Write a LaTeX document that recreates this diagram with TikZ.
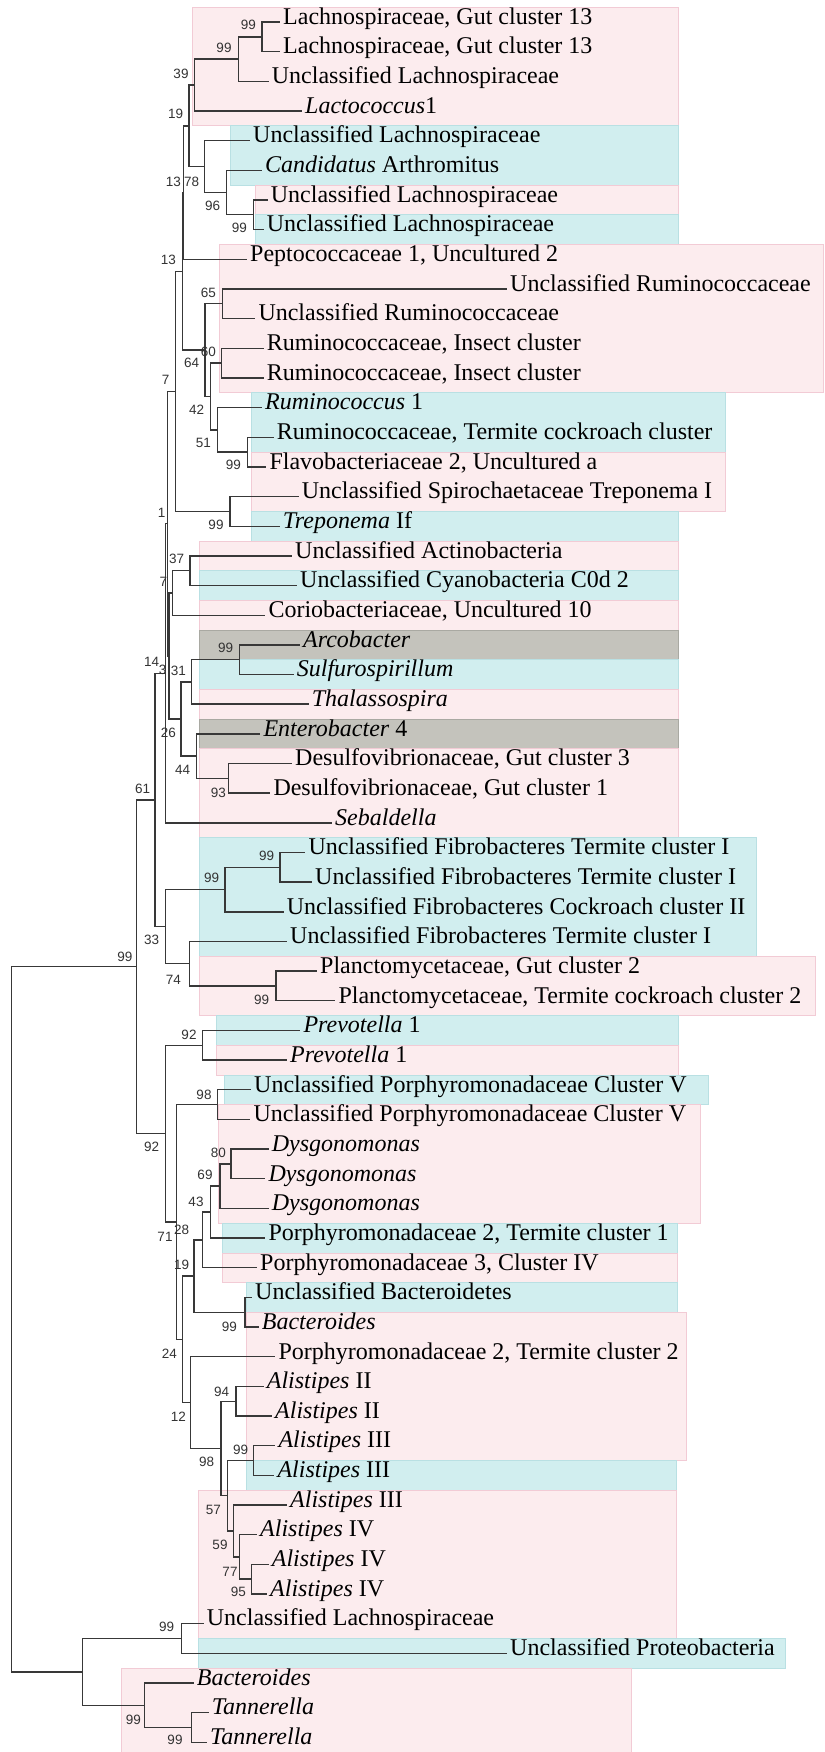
\documentclass[tikz,border=0pt]{standalone}
\usepackage{fontspec}
\setmainfont{Liberation Serif}
\newfontfamily\lsans{Liberation Sans}
\definecolor{pkf}{HTML}{FCECEE}
\definecolor{pkd}{HTML}{F2CBD5}
\definecolor{cyf}{HTML}{D1EEEF}
\definecolor{cyd}{HTML}{B9E0E3}
\definecolor{gyf}{HTML}{C4C3BC}
\definecolor{gyd}{HTML}{A9A9A2}
\newcommand\Y[1]{22+(#1-1)*29.66}
\newcommand\bx[5]{\path[#5] (#1,{\Y{#3-0.5}}) rectangle (#2,{\Y{#4+0.5}});}
\newcommand\ed[2]{\draw[br] (#1) |- (#2);}
\newcommand\el[2]{\draw[lf] (#1) |- (#2.mid west);}
\tikzset{
  leaf/.style={anchor=mid west, inner sep=0pt, font=\fontsize{24}{28}\selectfont},
  bs/.style={inner sep=0pt, font=\lsans\fontsize{13.5}{15}\selectfont, text=black!80},
  br/.style={draw=black!78, line width=1.4pt},
  lf/.style={br, shorten >=3pt},
  pkb/.style={fill=pkf, draw=pkd, line width=0.8pt},
  cyb/.style={fill=cyf, draw=cyd, line width=0.8pt},
  gyb/.style={fill=gyf, draw=gyd, line width=0.8pt}
}
\begin{document}
\begin{tikzpicture}[x=1pt,y=-1pt]
\useasboundingbox (0,0) rectangle (824,1752);
% background boxes
\bx{192.7}{678.3}{1}{4}{pkb}
\bx{230}{678.3}{5}{6}{cyb}
\bx{255}{678.3}{7}{7}{pkb}
\bx{255}{678.3}{8}{8}{cyb}
\bx{219.3}{823}{9}{13}{pkb}
\bx{251.7}{725}{14}{15}{cyb}
\bx{251.7}{725}{16}{17}{pkb}
\bx{251.7}{678.3}{18}{18}{cyb}
\bx{199}{678.3}{19}{19}{pkb}
\bx{199}{678.3}{20}{20}{cyb}
\bx{199}{678.3}{21}{21}{pkb}
\bx{199}{678.3}{22}{22}{gyb}
\bx{199}{678.3}{23}{23}{cyb}
\bx{199}{678.3}{24}{24}{pkb}
\bx{199}{678.3}{25}{25}{gyb}
\bx{199}{678.3}{26}{28}{pkb}
\bx{199}{756.7}{29}{32}{cyb}
\bx{199}{815}{33}{34}{pkb}
\bx{216.7}{678.3}{35}{35}{cyb}
\bx{216.7}{678.3}{36}{36}{pkb}
\bx{224}{708.3}{37}{37}{cyb}
\bx{218.3}{700}{38}{41}{pkb}
\bx{222.7}{677.7}{42}{42}{cyb}
\bx{222.7}{677.7}{43}{43}{pkb}
\bx{246}{677.7}{44}{44}{cyb}
\bx{246}{686}{45}{49}{pkb}
\bx{246}{676.7}{50}{50}{cyb}
\bx{198.3}{676.7}{51}{55}{pkb}
\bx{198.3}{785}{56}{56}{cyb}
\bx{121.7}{631.7}{57}{59}{pkb}
% leaves
\node[leaf] (l1) at (283,{\Y{1}}) {Lachnospiraceae, Gut cluster 13};
\node[leaf] (l2) at (283,{\Y{2}}) {Lachnospiraceae, Gut cluster 13};
\node[leaf] (l3) at (271.7,{\Y{3}}) {Unclassified Lachnospiraceae};
\node[leaf] (l4) at (305,{\Y{4}}) {\textit{Lactococcus}1};
\node[leaf] (l5) at (253,{\Y{5}}) {Unclassified Lachnospiraceae};
\node[leaf] (l6) at (265,{\Y{6}}) {\textit{Candidatus} Arthromitus};
\node[leaf] (l7) at (270.7,{\Y{7}}) {Unclassified Lachnospiraceae};
\node[leaf] (l8) at (266.7,{\Y{8}}) {Unclassified Lachnospiraceae};
\node[leaf] (l9) at (250,{\Y{9}}) {Peptococcaceae 1, Uncultured 2};
\node[leaf] (l10) at (510,{\Y{10}}) {Unclassified Ruminococcaceae};
\node[leaf] (l11) at (258.3,{\Y{11}}) {Unclassified Ruminococcaceae};
\node[leaf] (l12) at (266.7,{\Y{12}}) {Ruminococcaceae, Insect cluster};
\node[leaf] (l13) at (266.7,{\Y{13}}) {Ruminococcaceae, Insect cluster};
\node[leaf] (l14) at (265,{\Y{14}}) {\textit{Ruminococcus} 1};
\node[leaf] (l15) at (276.7,{\Y{15}}) {Ruminococcaceae, Termite cockroach cluster};
\node[leaf] (l16) at (269.3,{\Y{16}}) {Flavobacteriaceae 2, Uncultured a};
\node[leaf] (l17) at (301.7,{\Y{17}}) {Unclassified Spirochaetaceae Treponema I};
\node[leaf] (l18) at (282.7,{\Y{18}}) {\textit{Treponema} If};
\node[leaf] (l19) at (295,{\Y{19}}) {Unclassified Actinobacteria};
\node[leaf] (l20) at (300,{\Y{20}}) {Unclassified Cyanobacteria C0d 2};
\node[leaf] (l21) at (268.3,{\Y{21}}) {Coriobacteriaceae, Uncultured 10};
\node[leaf] (l22) at (303,{\Y{22}}) {\textit{Arcobacter}};
\node[leaf] (l23) at (296.7,{\Y{23}}) {\textit{Sulfurospirillum}};
\node[leaf] (l24) at (311.7,{\Y{24}}) {\textit{Thalassospira}};
\node[leaf] (l25) at (263.3,{\Y{25}}) {\textit{Enterobacter} 4};
\node[leaf] (l26) at (295,{\Y{26}}) {Desulfovibrionaceae, Gut cluster 3};
\node[leaf] (l27) at (273.3,{\Y{27}}) {Desulfovibrionaceae, Gut cluster 1};
\node[leaf] (l28) at (335,{\Y{28}}) {\textit{Sebaldella}};
\node[leaf] (l29) at (308.3,{\Y{29}}) {Unclassified Fibrobacteres Termite cluster I};
\node[leaf] (l30) at (315,{\Y{30}}) {Unclassified Fibrobacteres Termite cluster I};
\node[leaf] (l31) at (286.7,{\Y{31}}) {Unclassified Fibrobacteres Cockroach cluster II};
\node[leaf] (l32) at (290,{\Y{32}}) {Unclassified Fibrobacteres Termite cluster I};
\node[leaf] (l33) at (320,{\Y{33}}) {Planctomycetaceae, Gut cluster 2};
\node[leaf] (l34) at (338.3,{\Y{34}}) {Planctomycetaceae, Termite cockroach cluster 2};
\node[leaf] (l35) at (303.3,{\Y{35}}) {\textit{Prevotella} 1};
\node[leaf] (l36) at (290,{\Y{36}}) {\textit{Prevotella} 1};
\node[leaf] (l37) at (254,{\Y{37}}) {Unclassified Porphyromonadaceae Cluster V};
\node[leaf] (l38) at (253.3,{\Y{38}}) {Unclassified Porphyromonadaceae Cluster V};
\node[leaf] (l39) at (271.7,{\Y{39}}) {\textit{Dysgonomonas}};
\node[leaf] (l40) at (268.3,{\Y{40}}) {\textit{Dysgonomonas}};
\node[leaf] (l41) at (271.7,{\Y{41}}) {\textit{Dysgonomonas}};
\node[leaf] (l42) at (268.3,{\Y{42}}) {Porphyromonadaceae 2, Termite cluster 1};
\node[leaf] (l43) at (260,{\Y{43}}) {Porphyromonadaceae 3, Cluster IV};
\node[leaf] (l44) at (255,{\Y{44}}) {Unclassified Bacteroidetes};
\node[leaf] (l45) at (261.7,{\Y{45}}) {\textit{Bacteroides}};
\node[leaf] (l46) at (278.3,{\Y{46}}) {Porphyromonadaceae 2, Termite cluster 2};
\node[leaf] (l47) at (266.7,{\Y{47}}) {\textit{Alistipes} II};
\node[leaf] (l48) at (275,{\Y{48}}) {\textit{Alistipes} II};
\node[leaf] (l49) at (278.3,{\Y{49}}) {\textit{Alistipes} III};
\node[leaf] (l50) at (277.3,{\Y{50}}) {\textit{Alistipes} III};
\node[leaf] (l51) at (290,{\Y{51}}) {\textit{Alistipes} III};
\node[leaf] (l52) at (260,{\Y{52}}) {\textit{Alistipes} IV};
\node[leaf] (l53) at (271.7,{\Y{53}}) {\textit{Alistipes} IV};
\node[leaf] (l54) at (270,{\Y{54}}) {\textit{Alistipes} IV};
\node[leaf] (l55) at (206.7,{\Y{55}}) {Unclassified Lachnospiraceae};
\node[leaf] (l56) at (510,{\Y{56}}) {Unclassified Proteobacteria};
\node[leaf] (l57) at (196.7,{\Y{57}}) {\textit{Bacteroides}};
\node[leaf] (l58) at (211.7,{\Y{58}}) {\textit{Tannerella}};
\node[leaf] (l59) at (210,{\Y{59}}) {\textit{Tannerella}};
% internal nodes
\coordinate (n99a) at (262,{\Y{1.5}});
\coordinate (n99i) at (238.3,{\Y{2.25}});
\coordinate (n39) at (194.3,{\Y{3.125}});
\coordinate (n99b) at (253.3,{\Y{7.5}});
\coordinate (n96) at (226.7,{\Y{6.75}});
\coordinate (n78) at (204.3,{\Y{5.875}});
\coordinate (n19) at (189,{\Y{4.5}});
\coordinate (nA) at (183.5,{\Y{6.75}});
\coordinate (n65) at (222.7,{\Y{10.5}});
\coordinate (n60) at (221.7,{\Y{12.5}});
\coordinate (n99c) at (247.3,{\Y{15.5}});
\coordinate (n51) at (217.3,{\Y{14.75}});
\coordinate (n42) at (210.7,{\Y{13.625}});
\coordinate (n64) at (205,{\Y{12.0625}});
\coordinate (nB) at (182.3,{\Y{9.40625}});
\coordinate (n99d) at (230,{\Y{17.5}});
\coordinate (n7) at (175.7,{\Y{13.453}});
\coordinate (n37) at (190,{\Y{19.5}});
\coordinate (n7b) at (172.3,{\Y{20.25}});
\coordinate (n99e) at (239.3,{\Y{22.5}});
\coordinate (n31) at (191.7,{\Y{23.25}});
\coordinate (n93) at (228.3,{\Y{26.5}});
\coordinate (n44) at (196.7,{\Y{25.75}});
\coordinate (n26) at (181,{\Y{24.5}});
\coordinate (n3) at (169,{\Y{22.375}});
\coordinate (n1) at (167.7,{\Y{17.914}});
\coordinate (n14) at (165.7,{\Y{22.957}});
\coordinate (n99g) at (280,{\Y{29.5}});
\coordinate (n99f) at (225,{\Y{30.25}});
\coordinate (n99h) at (276,{\Y{33.5}});
\coordinate (n74) at (189.3,{\Y{32.75}});
\coordinate (n33) at (165.7,{\Y{31.5}});
\coordinate (n61) at (155,{\Y{27.2285}});
\coordinate (n92a) at (202.3,{\Y{35.5}});
\coordinate (n98) at (217.3,{\Y{37.5}});
\coordinate (n80) at (231,{\Y{39.5}});
\coordinate (n69) at (220,{\Y{40.25}});
\coordinate (n43) at (210.7,{\Y{41.125}});
\coordinate (n28) at (202.3,{\Y{42.0625}});
\coordinate (n99j) at (245,{\Y{44.5}});
\coordinate (n19b) at (194,{\Y{43.28125}});
\coordinate (n94) at (236,{\Y{47.5}});
\coordinate (n99m2) at (253.3,{\Y{49.5}});
\coordinate (n95) at (251.7,{\Y{53.5}});
\coordinate (n77) at (239.3,{\Y{52.75}});
\coordinate (n59) at (233.3,{\Y{51.875}});
\coordinate (n57) at (227.7,{\Y{50.6875}});
\coordinate (n98b) at (221,{\Y{49.09375}});
\coordinate (n12) at (190.7,{\Y{47.546875}});
\coordinate (n24) at (182.7,{\Y{45.4140625}});
\coordinate (n71) at (176.7,{\Y{41.45703}});
\coordinate (n92) at (165.7,{\Y{38.4785}});
\coordinate (n99big) at (136.7,{\Y{32.8535}});
\coordinate (n99k) at (181.7,{\Y{55.5}});
\coordinate (n99l) at (191.7,{\Y{58.5}});
\coordinate (n99m) at (144.3,{\Y{57.75}});
\coordinate (nout) at (82.7,{\Y{56.625}});
\coordinate (root) at (11.7,{\Y{44.739}});
% edges
\el{n99a}{l1}\el{n99a}{l2}
\ed{n99i}{n99a}\el{n99i}{l3}
\ed{n39}{n99i}\el{n39}{l4}
\el{n99b}{l7}\el{n99b}{l8}
\el{n96}{l6}\ed{n96}{n99b}
\el{n78}{l5}\ed{n78}{n96}
\ed{n19}{n39}\ed{n19}{n78}
\ed{nA}{n19}\el{nA}{l9}
\ed{nB}{nA}\ed{nB}{n64}
\ed{n64}{n65}\ed{n64}{n42}
\el{n65}{l10}\el{n65}{l11}
\ed{n42}{n60}\ed{n42}{n51}
\el{n60}{l12}\el{n60}{l13}
\el{n51}{l14}\ed{n51}{n99c}
\el{n99c}{l15}\el{n99c}{l16}
\ed{n7}{nB}\ed{n7}{n99d}
\el{n99d}{l17}\el{n99d}{l18}
\ed{n1}{n7}\ed{n1}{n3}
\ed{n3}{n7b}\ed{n3}{n26}
\ed{n7b}{n37}\el{n7b}{l21}
\el{n37}{l19}\el{n37}{l20}
\ed{n26}{n31}\ed{n26}{n44}
\ed{n31}{n99e}\el{n31}{l24}
\el{n99e}{l22}\el{n99e}{l23}
\el{n44}{l25}\ed{n44}{n93}
\el{n93}{l26}\el{n93}{l27}
\ed{n14}{n1}\el{n14}{l28}
\ed{n61}{n14}\ed{n61}{n33}
\ed{n33}{n99f}\ed{n33}{n74}
\ed{n99f}{n99g}\el{n99f}{l31}
\el{n99g}{l29}\el{n99g}{l30}
\el{n74}{l32}\ed{n74}{n99h}
\el{n99h}{l33}\el{n99h}{l34}
\ed{n99big}{n61}\ed{n99big}{n92}
\ed{n92}{n92a}\ed{n92}{n71}
\el{n92a}{l35}\el{n92a}{l36}
\ed{n71}{n98}\ed{n71}{n24}
\el{n98}{l37}\el{n98}{l38}
\ed{n24}{n19b}\ed{n24}{n12}
\ed{n19b}{n28}\ed{n19b}{n99j}
\ed{n28}{n43}\el{n28}{l43}
\ed{n43}{n69}\el{n43}{l42}
\ed{n69}{n80}\el{n69}{l41}
\el{n80}{l39}\el{n80}{l40}
\el{n99j}{l44}\el{n99j}{l45}
\el{n12}{l46}\ed{n12}{n98b}
\ed{n98b}{n94}\ed{n98b}{n57}
\el{n94}{l47}\el{n94}{l48}
\ed{n57}{n99m2}\ed{n57}{n59}
\el{n99m2}{l49}\el{n99m2}{l50}
\el{n59}{l51}\ed{n59}{n77}
\el{n77}{l52}\ed{n77}{n95}
\el{n95}{l53}\el{n95}{l54}
\ed{root}{n99big}\ed{root}{nout}
\ed{nout}{n99k}\ed{nout}{n99m}
\el{n99k}{l55}\el{n99k}{l56}
\el{n99m}{l57}\ed{n99m}{n99l}
\el{n99l}{l58}\el{n99l}{l59}
% bootstrap values
\node[bs] (s1) at (248.3,25) {99};
\node[bs] (s2) at (224,48.3) {99};
\node[bs] (s3) at (181,74) {39};
\node[bs] (s4) at (175.7,114.3) {19};
\node[bs] (s5) at (173.3,181.7) {13};
\node[bs] (s6) at (191.7,181.7) {78};
\node[bs] (s7) at (212.7,206) {96};
\node[bs] (s8) at (239.3,228.3) {99};
\node[bs] (s9) at (168.3,260) {13};
\node[bs] (s10) at (208.3,292.7) {65};
\node[bs] (s11) at (208.3,351.7) {60};
\node[bs] (s12) at (191.7,363.3) {64};
\node[bs] (s13) at (165.7,380) {7};
\node[bs] (s14) at (196.7,410) {42};
\node[bs] (s15) at (203.3,442.7) {51};
\node[bs] (s16) at (233.3,465) {99};
\node[bs] (s17) at (161.7,513.3) {1};
\node[bs] (s18) at (216,525) {99};
\node[bs] (s19) at (176.7,559.3) {37};
\node[bs] (s20) at (163.3,581.7) {7};
\node[bs] (s21) at (225.7,648.3) {99};
\node[bs] (s22) at (151.7,661.7) {14};
\node[bs] (s23) at (162.7,670) {3};
\node[bs] (s24) at (178.3,670.7) {31};
\node[bs] (s25) at (168.3,732.7) {26};
\node[bs] (s26) at (182.7,770) {44};
\node[bs] (s27) at (142.7,789.3) {61};
\node[bs] (s28) at (218.3,792.7) {93};
\node[bs] (s29) at (266.7,856) {99};
\node[bs] (s30) at (211.7,878.3) {99};
\node[bs] (s31) at (151.7,940) {33};
\node[bs] (s32) at (125,956.7) {99};
\node[bs] (s33) at (173.3,980) {74};
\node[bs] (s34) at (261.7,1000) {99};
\node[bs] (s35) at (189,1035) {92};
\node[bs] (s36) at (204,1095) {98};
\node[bs] (s37) at (151.7,1146.7) {92};
\node[bs] (s38) at (218.3,1153.3) {80};
\node[bs] (s39) at (205,1175) {69};
\node[bs] (s40) at (196,1201.7) {43};
\node[bs] (s41) at (181.7,1230) {28};
\node[bs] (s42) at (165,1237.3) {71};
\node[bs] (s43) at (181.7,1265) {19};
\node[bs] (s44) at (229.3,1326.7) {99};
\node[bs] (s45) at (169.3,1353.3) {24};
\node[bs] (s46) at (221.7,1391.7) {94};
\node[bs] (s47) at (178.3,1416.7) {12};
\node[bs] (s48) at (240.7,1450) {99};
\node[bs] (s49) at (206.7,1461.7) {98};
\node[bs] (s50) at (213.3,1510) {57};
\node[bs] (s51) at (220,1545) {59};
\node[bs] (s52) at (230,1571.7) {77};
\node[bs] (s53) at (238.3,1591.7) {95};
\node[bs] (s54) at (166.7,1626.7) {99};
\node[bs] (s55) at (133.3,1720) {99};
\node[bs] (s56) at (175,1740) {99};
\end{tikzpicture}
\end{document}
